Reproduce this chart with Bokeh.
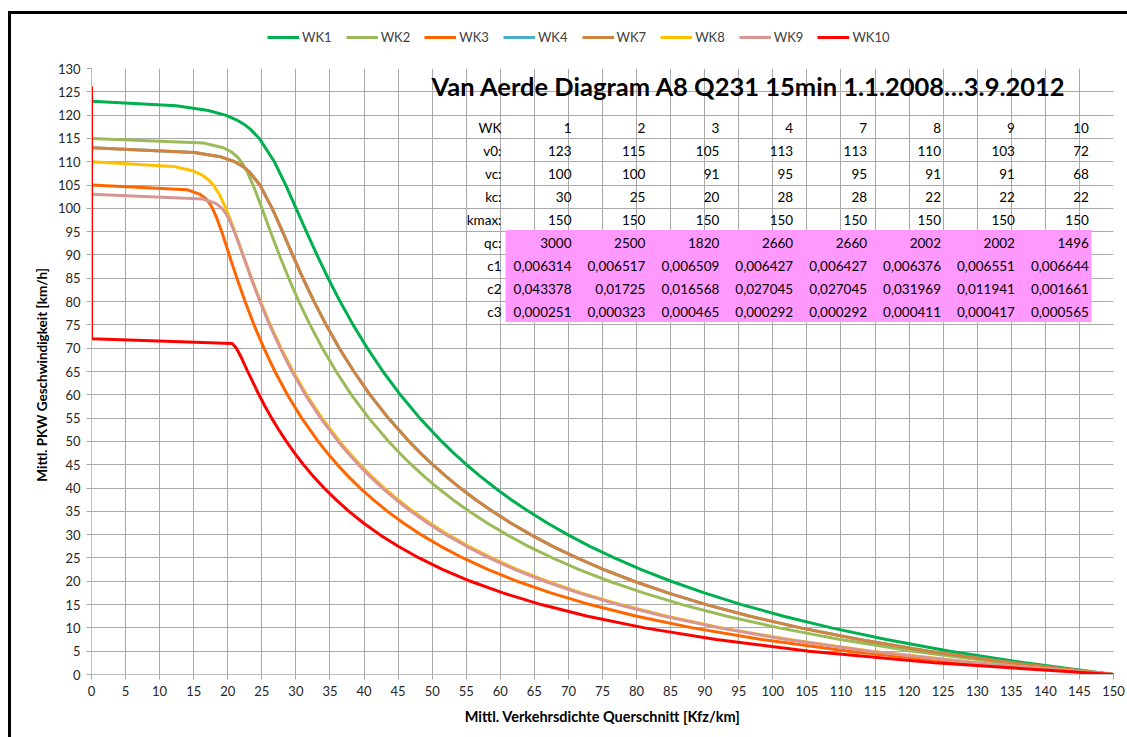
from bokeh.plotting import figure
from bokeh.models import (Range1d, FixedTicker, Legend, LegendItem, Label, LabelSet,
                          ColumnDataSource, Div, BoxAnnotation)
from bokeh.layouts import column, row
from bokeh.core.properties import value
from bokeh.embed import file_html
from bokeh.resources import INLINE

# ---------------- data ----------------
wk1_k = [0, 12.45, 17.13, 19.65, 21.26, 22.42, 23.30, 24.63, 26.84, 28.51, 30.03, 31.54, 33.09, 34.73, 36.49,
         38.40, 40.48, 42.78, 45.33, 48.18, 51.39, 53.16, 55.05, 57.08, 59.25, 61.60, 64.14, 66.89, 69.88,
         73.15, 76.74, 80.69, 85.07, 89.95, 95.41, 101.58, 108.62, 116.66, 126.00, 136.96, 150.0]
wk1_v = [123, 122, 121, 120, 119, 118, 117, 115, 110, 105, 100, 95, 90, 85, 80,
         75, 70, 65, 60, 55, 50, 47.5, 45, 42.5, 40, 37.5, 35, 32.5, 30,
         27.5, 25, 22.5, 20, 17.5, 15, 12.5, 10, 7.5, 5, 2.5, 0]

wk2_k = [0, 16.50, 19.36, 20.64, 21.42, 21.98, 22.80, 23.72, 25.02, 26.27, 27.57, 28.95, 30.44, 32.08, 33.89,
         35.90, 38.15, 40.70, 43.61, 45.22, 46.95, 48.82, 50.85, 53.04, 55.44, 58.06, 60.94, 64.12, 67.64,
         71.58, 76.00, 81.00, 86.70, 93.26, 100.89, 109.89, 120.64, 133.73, 150.0]
wk2_v = [115, 114, 113, 112, 111, 110, 108, 105, 100, 95, 90, 85, 80, 75, 70,
         65, 60, 55, 50, 47.5, 45, 42.5, 40, 37.5, 35, 32.5, 30, 27.5, 25,
         22.5, 20, 17.5, 15, 12.5, 10, 7.5, 5, 2.5, 0]

wk3_k = [0, 14.00, 15.95, 16.82, 17.36, 17.75, 18.37, 19.11, 20.00, 20.22, 21.34, 22.54, 23.85, 25.30, 26.92,
         28.75, 30.85, 33.27, 34.62, 36.09, 37.68, 39.43, 41.34, 43.44, 45.77, 48.36, 51.26, 54.52, 58.23,
         62.48, 67.40, 73.16, 80.00, 88.23, 98.36, 111.11, 127.66, 150.0]
wk3_v = [105, 104, 103, 102, 101, 100, 98, 95, 91, 90, 85, 80, 75, 70, 65,
         60, 55, 50, 47.5, 45, 42.5, 40, 37.5, 35, 32.5, 30, 27.5, 25, 22.5,
         20, 17.5, 15, 12.5, 10, 7.5, 5, 2.5, 0]

wk4_k = [0, 15.11, 19.10, 21.03, 22.21, 23.06, 24.71, 26.52, 28.04, 29.51, 31.04, 32.67, 34.44, 36.37, 38.51,
         40.89, 43.57, 46.61, 48.29, 50.09, 52.03, 54.12, 56.39, 58.85, 61.53, 64.46, 67.69, 71.25, 75.21,
         79.63, 84.60, 90.23, 96.65, 104.06, 112.70, 122.89, 135.10, 150.0]
wk4_v = [113, 112, 111, 110, 109, 108, 105, 100, 95, 90, 85, 80, 75, 70, 65,
         60, 55, 50, 47.5, 45, 42.5, 40, 37.5, 35, 32.5, 30, 27.5, 25, 22.5,
         20, 17.5, 15, 12.5, 10, 7.5, 5, 2.5, 0]

wk7_k = [0, 15.11, 19.10, 21.03, 22.21, 23.06, 24.71, 26.52, 28.04, 29.51, 31.04, 32.67, 34.44, 36.37, 38.51,
         40.89, 43.57, 46.61, 48.29, 50.09, 52.03, 54.12, 56.39, 58.85, 61.53, 64.46, 67.69, 71.25, 75.21,
         79.63, 84.60, 90.23, 96.65, 104.06, 112.70, 122.89, 135.10, 150.0]
wk7_v = [113, 112, 111, 110, 109, 108, 105, 100, 95, 90, 85, 80, 75, 70, 65,
         60, 55, 50, 47.5, 45, 42.5, 40, 37.5, 35, 32.5, 30, 27.5, 25, 22.5,
         20, 17.5, 15, 12.5, 10, 7.5, 5, 2.5, 0]

wk8_k = [0, 12.03, 14.98, 16.39, 17.26, 17.88, 18.77, 19.73, 21.03, 22.00, 22.24, 23.48, 24.80, 26.24, 27.82,
         29.58, 31.57, 33.83, 36.42, 37.86, 39.43, 41.12, 42.97, 44.99, 47.20, 49.64, 52.34, 55.35, 58.73,
         62.54, 66.88, 71.87, 77.65, 84.45, 92.54, 102.35, 114.48, 129.86, 150.0]
wk8_v = [110, 109, 108, 107, 106, 105, 103, 100, 95, 91, 90, 85, 80, 75, 70,
         65, 60, 55, 50, 47.5, 45, 42.5, 40, 37.5, 35, 32.5, 30, 27.5, 25,
         22.5, 20, 17.5, 15, 12.5, 10, 7.5, 5, 2.5, 0]

wk9_k = [0, 16.39, 18.30, 19.15, 19.68, 20.08, 20.98, 21.98, 22.22, 23.44, 24.73, 26.14, 27.70, 29.44,
         31.40, 33.63, 36.20, 37.63, 39.18, 40.86, 42.70, 44.70, 46.90, 49.33, 52.02, 55.02, 58.38,
         62.18, 66.51, 71.49, 77.27, 84.07, 92.17, 102.00, 114.18, 129.66, 150.0]
wk9_v = [103, 102, 101, 100, 99, 98, 95, 91, 90, 85, 80, 75, 70, 65,
         60, 55, 50, 47.5, 45, 42.5, 40, 37.5, 35, 32.5, 30, 27.5, 25,
         22.5, 20, 17.5, 15, 12.5, 10, 7.5, 5, 2.5, 0]

wk10_k = [0, 0, 20.65, 21.27, 21.99, 22.93, 24.58, 25.48, 26.44, 27.48, 28.60, 29.81, 31.12, 32.56, 34.13,
          35.87, 37.79, 39.92, 42.31, 45.01, 48.07, 51.57, 55.63, 60.38, 66.01, 72.81, 81.16, 91.68,
          105.33, 123.76, 150.0]
wk10_v = [126, 72, 71, 70, 68, 65, 60, 57.5, 55, 52.5, 50, 47.5, 45, 42.5, 40,
          37.5, 35, 32.5, 30, 27.5, 25, 22.5, 20, 17.5, 15, 12.5, 10, 7.5,
          5, 2.5, 0]

series_names = ["WK1", "WK2", "WK3", "WK4", "WK7", "WK8", "WK9", "WK10"]
series_k = [wk1_k, wk2_k, wk3_k, wk4_k, wk7_k, wk8_k, wk9_k, wk10_k]
series_v = [wk1_v, wk2_v, wk3_v, wk4_v, wk7_v, wk8_v, wk9_v, wk10_v]
series_colors = ["#00b050", "#9bbb59", "#ff6600", "#4bacc6", "#d2843e", "#ffc000", "#d99594", "#ff0000"]

# parameter table
table_wk = ["1", "2", "3", "4", "7", "8", "9", "10"]
table_v0 = [123, 115, 105, 113, 113, 110, 103, 72]
table_vc = [100, 100, 91, 95, 95, 91, 91, 68]
table_kc = [30, 25, 20, 28, 28, 22, 22, 22]
table_kmax = [150, 150, 150, 150, 150, 150, 150, 150]
table_qc = [3000, 2500, 1820, 2660, 2660, 2002, 2002, 1496]
table_c1 = [0.006314, 0.006517, 0.006509, 0.006427, 0.006427, 0.006376, 0.006551, 0.006644]
table_c2 = [0.043378, 0.01725, 0.016568, 0.027045, 0.027045, 0.031969, 0.011941, 0.001661]
table_c3 = [0.000251, 0.000323, 0.000465, 0.000292, 0.000292, 0.000411, 0.000417, 0.000565]
row_labels = ["WK", "v0:", "vc:", "kc:", "kmax:", "qc:", "c1", "c2", "c3"]

title_text = "Van Aerde Diagram A8 Q231 15min 1.1.2008\u20263.9.2012"
x_ticks = list(range(0, 151, 5))
y_ticks = list(range(0, 131, 5))

FONT = "Lato"
TXT = "#262626"

# ---------------- legend strip (separate canvas above the plot) ----------------
lg = figure(width=1116, height=46, output_backend="svg", toolbar_location=None,
            x_axis_type=None, y_axis_type=None, x_range=Range1d(0, 1), y_range=Range1d(0, 1),
            min_border=0)
lg.outline_line_color = None
lg.background_fill_color = "white"
lg.border_fill_color = "white"
dummies = [lg.line([5, 6], [5, 6], line_color=c, line_width=3) for c in series_colors]
legend = Legend(items=[LegendItem(label=n, renderers=[r]) for n, r in zip(series_names, dummies)],
                orientation="horizontal", location=(176, 15),
                label_text_font=FONT, label_text_font_size="13px", label_text_color="#404040",
                glyph_width=32, glyph_height=14, label_standoff=3, spacing=14,
                padding=4, margin=0, border_line_color=None, background_fill_alpha=0)
lg.add_layout(legend)

# ---------------- main figure ----------------
p = figure(width=1116, height=677, output_backend="svg", toolbar_location=None,
           x_range=Range1d(0, 150), y_range=Range1d(0, 130),
           min_border_left=80, min_border_right=14, min_border_top=8, min_border_bottom=63)
p.outline_line_color = None
p.background_fill_color = "white"
p.border_fill_color = "white"

for ax in (p.xaxis[0], p.yaxis[0]):
    ax.axis_line_color = "#bfbfbf"
    ax.axis_line_width = 1
    ax.major_tick_line_color = "#a6a6a6"
    ax.major_tick_in = 0
    ax.major_tick_out = 5
    ax.minor_tick_line_color = None
    ax.major_label_text_font = FONT
    ax.major_label_text_font_size = "13px"
    ax.major_label_text_color = TXT
    ax.major_label_standoff = 6
    ax.axis_label_text_font = FONT
    ax.axis_label_text_font_style = "bold"
    ax.axis_label_text_color = "black"

p.xaxis.ticker = FixedTicker(ticks=x_ticks)
p.yaxis.ticker = FixedTicker(ticks=y_ticks)
p.xaxis.axis_label = "Mittl. Verkehrsdichte Querschnitt [Kfz/km]"
p.yaxis.axis_label = "Mittl.  PKW  Geschwindigkeit [km/h]"
p.xaxis.axis_label_text_font_size = "14.5px"
p.yaxis.axis_label_text_font_size = "13.5px"
p.xaxis.axis_label_standoff = 9
p.yaxis.axis_label_standoff = 5

for g in (p.xgrid[0], p.ygrid[0]):
    g.grid_line_color = "#a9a9a9"
    g.grid_line_width = 1

for name, ks, vs, col in zip(series_names, series_k, series_v, series_colors):
    src = ColumnDataSource(data=dict(k=ks, v=vs))
    p.line("k", "v", source=src, line_color=col, line_width=3, line_join="round", line_cap="round")

# ---------------- parameter table ----------------
def px_to_k(px):
    return (px - 91) / (1022 / 150)

def py_to_v(py):
    return (674 - py) / (606 / 130)

pink = BoxAnnotation(left=px_to_k(505), right=px_to_k(1091), bottom=py_to_v(321.5), top=py_to_v(229.5),
                     fill_color="#ff99ff", fill_alpha=1.0, line_color=None)
p.add_layout(pink)

p.add_layout(Label(x=px_to_k(431), y=py_to_v(85), text=title_text, text_font=FONT,
                   text_font_size="25.5px", text_font_style="bold", text_color="black",
                   text_baseline="middle", text_align="left"))

def fmt(c):
    return ("%g" % c).replace(".", ",")

rows_vals = [table_wk, [str(x) for x in table_v0], [str(x) for x in table_vc], [str(x) for x in table_kc],
             [str(x) for x in table_kmax], [str(x) for x in table_qc],
             [fmt(x) for x in table_c1], [fmt(x) for x in table_c2], [fmt(x) for x in table_c3]]

xs, ys, ts = [], [], []
for i, (lab, vals) in enumerate(zip(row_labels, rows_vals)):
    ypx = 127 + 23 * i
    xs.append(px_to_k(501)); ys.append(py_to_v(ypx)); ts.append(lab)
    for j, t in enumerate(vals):
        xs.append(px_to_k(571 + 73.9 * j)); ys.append(py_to_v(ypx)); ts.append(t)

tsrc = ColumnDataSource(data=dict(x=xs, y=ys, t=ts))
p.add_layout(LabelSet(x="x", y="y", text="t", source=tsrc, text_font=value(FONT),
                      text_font_size="13.5px", text_color="black", text_align="right",
                      text_baseline="middle"))

# ---------------- frame with black top/left border ----------------
top_spacer = Div(width=1127, height=11, margin=0)
left_spacer = Div(width=8, height=726, margin=0)
vline = Div(width=3, height=726, margin=0, styles={"background-color": "black"})
hline = Div(width=1116, height=3, margin=0, styles={"background-color": "black"})
layout = column(top_spacer,
                row(left_spacer, vline, column(hline, lg, p, spacing=0), spacing=0),
                spacing=0)

open("out.html", "w").write(file_html(layout, INLINE))
